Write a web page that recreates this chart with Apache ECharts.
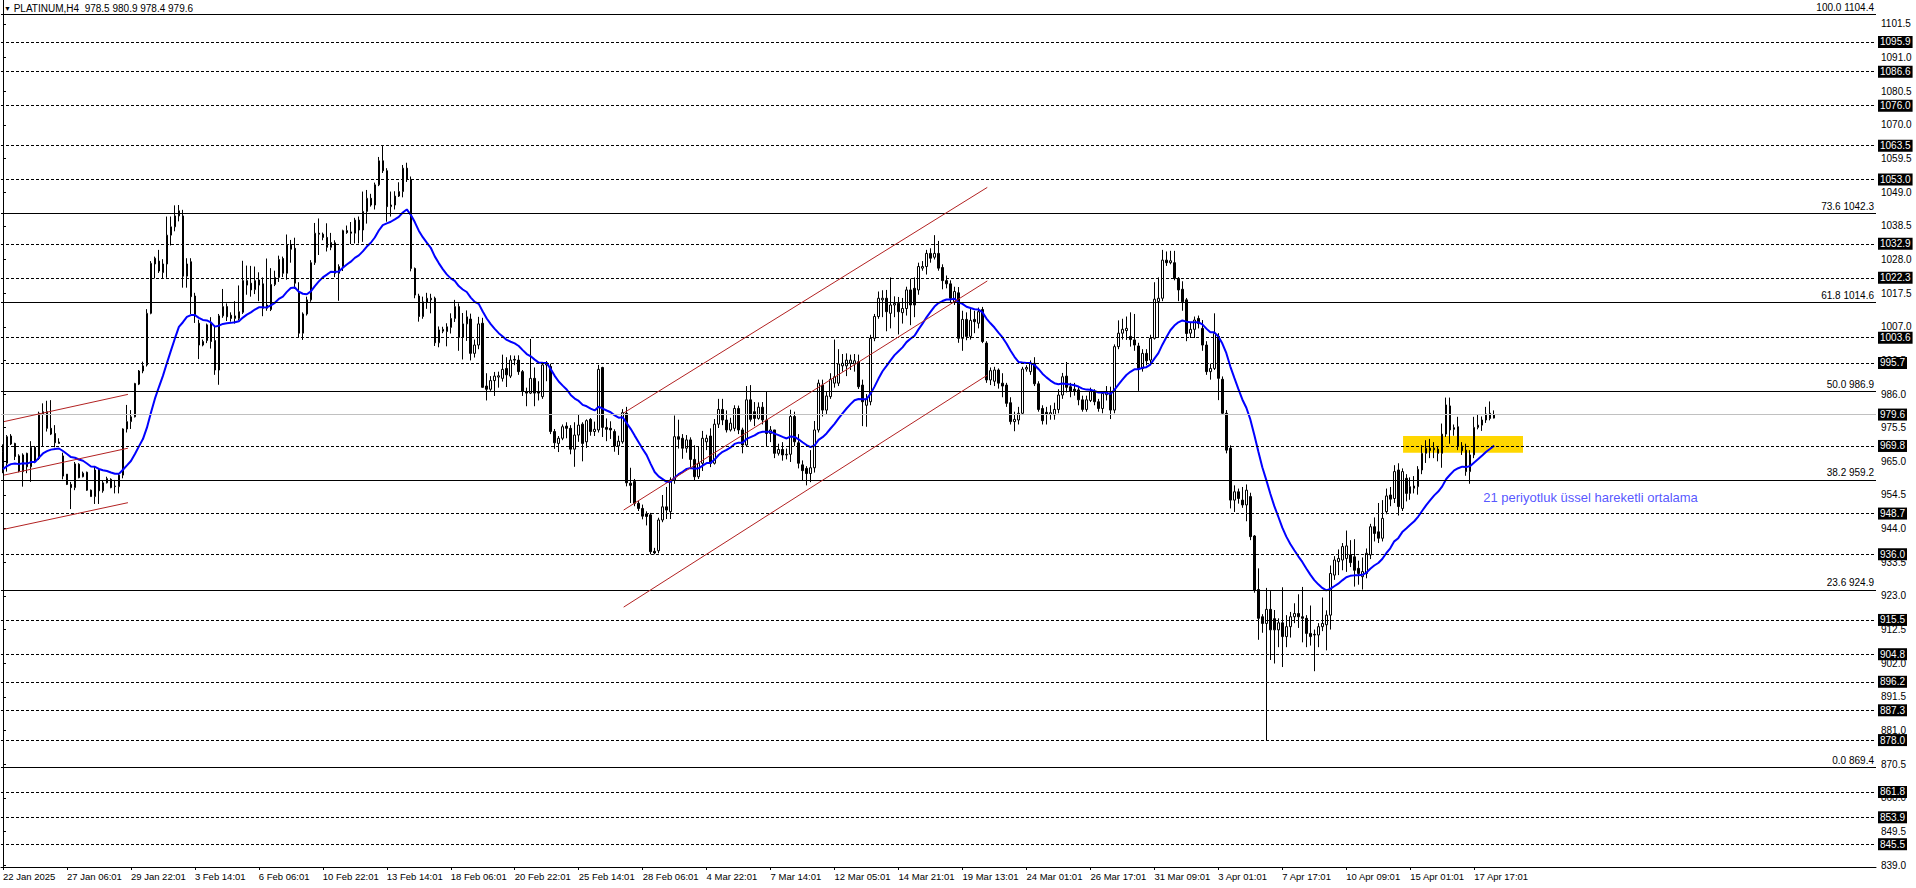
<!DOCTYPE html>
<html><head><meta charset="utf-8">
<script src="https://cdn.jsdelivr.net/npm/echarts@6/dist/echarts.min.js"></script>
<style>html,body{margin:0;padding:0;background:#fff}#c{width:1916px;height:888px}</style>
</head><body><div id="c"></div>
<script>
const symbolName = 'PLATINUM,H4';
const opens = [
968.0,964.4,972.9,970.6,966.7,961.8,967.5,963.3,969.4,965.9,
979.8,980.5,975.3,973.7,971.0,966.7,961.0,957.8,956.8,964.1,
960.2,961.6,956.0,954.0,962.3,955.8,958.3,959.4,957.1,957.1,
960.7,975.1,977.4,978.9,989.1,993.2,995.1,1011.2,1026.6,1027.5,
1023.9,1026.6,1035.6,1038.2,1041.6,1041.6,1022.8,1027.3,1016.6,1008.1,
1001.3,1002.7,1008.1,1002.7,993.5,1010.4,1013.3,1010.6,1009.6,1009.6,
1011.5,1021.4,1020.6,1018.6,1021.6,1020.4,1013.8,1012.4,1020.2,1022.4,
1028.3,1023.7,1032.5,1031.5,1017.9,1005.0,1011.0,1015.4,1027.0,1036.2,
1035.9,1034.9,1031.8,1033.2,1023.7,1025.8,1037.0,1036.6,1036.2,1040.3,
1037.2,1043.0,1047.1,1045.0,1051.3,1058.8,1055.7,1044.5,1045.0,1047.8,
1049.2,1056.5,1053.0,1025.2,1016.6,1010.2,1014.6,1015.4,1015.9,1002.0,
1005.6,1005.5,1006.8,1009.6,1013.3,1003.7,1007.9,1009.4,998.7,1001.3,
1008.1,988.5,987.5,990.2,991.3,990.9,994.0,991.6,996.8,996.6,
993.0,986.8,986.3,990.9,986.8,985.2,995.1,994.6,974.3,970.6,
972.2,976.0,975.3,968.8,973.2,976.6,971.1,978.1,974.3,974.8,
994.3,975.6,975.3,974.3,969.8,971.1,980.0,958.2,958.7,951.9,
950.3,948.6,948.3,936.9,937.1,946.7,950.8,949.3,959.2,972.7,
972.2,969.1,971.7,965.6,960.2,964.4,971.1,972.9,964.4,976.6,
981.2,977.9,974.8,975.3,981.5,974.8,970.1,984.2,980.5,978.4,
981.9,977.9,973.7,974.8,967.5,968.7,967.0,967.2,979.0,970.8,
963.9,962.8,961.2,963.0,974.8,988.8,981.0,985.2,989.4,989.4,
994.8,994.8,995.6,995.4,996.1,988.8,982.5,983.6,1003.4,1010.2,
1015.4,1015.9,1011.2,1013.8,1014.3,1011.4,1012.7,1018.5,1019.0,1018.5,
1025.3,1025.8,1029.9,1028.7,1029.9,1025.5,1021.4,1020.4,1014.8,1017.6,
1003.4,1009.3,1004.0,1009.3,1008.1,1012.4,1001.9,990.4,990.0,993.5,
989.4,988.8,983.3,977.4,977.9,980.0,993.8,993.0,995.6,989.2,
981.5,980.3,979.7,979.5,981.2,985.7,991.6,988.3,987.5,987.3,
984.2,981.2,984.0,986.8,983.6,981.5,985.8,986.4,981.0,1000.8,
1005.0,1005.8,1004.0,1002.9,1001.0,994.0,998.7,996.6,1003.4,1014.9,
1015.9,1027.8,1027.0,1027.0,1022.1,1018.7,1015.4,1005.0,1006.2,1009.6,
1006.5,1001.3,993.0,994.0,1004.0,990.6,980.0,969.1,952.9,955.5,
952.9,951.4,954.0,941.7,925.0,916.5,914.4,918.8,915.9,912.4,
914.6,910.3,913.4,916.5,917.5,916.5,916.0,911.3,911.0,910.8,
913.4,914.0,917.0,929.5,933.7,934.2,934.7,935.8,935.2,931.6,
929.0,930.0,935.8,944.6,943.0,941.0,949.3,954.5,953.4,962.3,
950.3,959.7,955.0,956.6,957.1,962.3,967.5,969.1,968.6,968.8,
967.5,973.5,982.3,975.5,975.8,969.8,968.5,961.8,967.0,975.6,
976.3,977.9,980.0,978.5];
const highs = [
970.3,973.2,973.5,970.8,967.2,967.5,967.7,971.3,969.8,980.5,
983.1,983.9,984.1,976.3,972.2,967.7,961.0,958.6,964.8,964.4,
961.8,961.8,956.2,963.5,962.8,958.9,960.2,959.7,959.2,961.3,
975.3,982.6,981.0,989.5,993.5,996.1,1012.5,1027.5,1028.9,1031.0,
1028.1,1041.4,1041.4,1044.9,1045.0,1043.5,1028.4,1028.4,1017.6,1009.2,
1003.0,1008.0,1010.0,1007.1,1011.0,1018.8,1014.3,1011.5,1015.0,1019.9,
1027.6,1026.1,1026.0,1025.8,1024.0,1022.4,1028.3,1025.3,1024.5,1029.2,
1028.9,1035.8,1034.1,1034.8,1020.9,1011.5,1016.4,1027.8,1039.4,1040.8,
1036.4,1039.3,1036.3,1034.0,1026.5,1037.3,1038.6,1039.7,1041.0,1041.4,
1049.2,1049.7,1048.5,1052.0,1060.0,1063.4,1056.5,1049.2,1049.3,1052.1,
1057.5,1058.2,1053.9,1025.5,1017.3,1016.4,1017.6,1017.3,1016.4,1007.1,
1007.0,1008.1,1011.2,1015.4,1014.3,1011.3,1012.1,1011.1,1003.0,1010.1,
1009.8,992.5,991.6,992.9,993.0,998.3,997.5,998.1,998.0,998.1,
993.5,988.0,1003.2,994.3,990.0,995.5,996.3,995.5,975.1,972.9,
976.5,977.2,976.3,977.2,979.5,977.2,978.1,978.5,977.4,995.1,
994.5,978.4,977.5,975.0,973.0,981.3,982.0,963.0,959.5,952.6,
951.5,949.4,948.9,938.0,947.4,954.5,957.0,960.0,979.3,978.0,
973.5,973.2,972.5,970.0,969.5,974.5,973.3,975.3,978.2,984.5,
984.5,980.9,978.6,982.5,982.4,975.5,988.5,988.8,983.5,983.4,
983.5,986.8,976.0,974.5,970.5,971.0,969.0,981.1,980.5,973.5,
965.3,963.5,968.5,977.6,990.5,990.5,986.8,992.5,1003.0,1000.0,
998.5,998.7,998.3,998.5,998.3,990.5,986.0,1004.5,1011.0,1018.0,
1018.4,1018.5,1022.4,1016.5,1016.3,1016.0,1019.5,1022.0,1022.4,1027.0,
1027.5,1031.0,1031.5,1035.6,1033.8,1026.5,1023.0,1021.5,1019.5,1019.4,
1012.0,1011.5,1013.0,1012.0,1013.0,1013.2,1002.5,994.3,994.5,994.0,
992.5,989.5,985.0,980.5,982.0,994.5,995.0,996.5,997.5,990.0,
982.5,982.0,982.5,983.3,987.5,992.6,996.0,989.5,989.5,988.5,
985.5,985.5,988.0,987.5,984.5,986.8,988.5,988.3,1001.5,1009.0,
1009.5,1010.2,1011.5,1011.0,1002.0,1000.0,1000.0,1004.5,1020.9,1022.4,
1031.0,1030.5,1030.7,1030.7,1022.5,1021.2,1016.0,1008.2,1010.2,1010.5,
1009.1,1002.5,995.5,1011.2,1005.0,991.5,981.0,970.0,957.5,956.5,
957.0,957.8,955.2,942.0,931.6,917.3,925.5,924.5,918.6,916.0,
925.7,917.0,918.0,920.7,923.5,925.8,917.0,920.0,912.5,914.5,
922.5,918.5,932.5,935.4,937.5,939.5,943.4,940.4,940.7,934.0,
935.0,937.8,945.5,947.5,952.0,952.9,956.5,957.0,963.8,964.4,
962.8,961.0,960.0,960.4,963.5,970.0,971.6,972.0,971.0,969.5,
976.8,984.9,984.9,976.5,978.9,971.0,970.5,968.5,978.9,979.5,
979.0,982.0,983.7,980.9];
const lows = [
961.3,961.8,970.1,965.4,961.6,957.1,961.3,958.6,964.4,965.4,
969.6,974.3,973.2,969.4,970.6,959.4,957.6,950.1,956.0,959.7,
960.0,955.8,954.0,951.7,951.7,955.2,958.1,956.6,955.0,955.0,
959.7,974.0,975.1,978.7,988.8,992.5,994.6,1010.9,1022.1,1023.8,
1022.0,1022.3,1032.4,1036.8,1039.9,1019.2,1019.2,1011.0,1008.2,996.9,
1000.9,1001.9,1000.2,992.0,988.9,1009.8,1008.8,1008.6,1008.0,1009.0,
1011.0,1017.0,1016.4,1017.2,1015.0,1010.3,1012.0,1011.9,1019.7,1021.0,
1022.5,1021.7,1027.0,1018.8,1003.5,1002.9,1010.5,1014.8,1026.3,1029.4,
1034.0,1030.5,1030.9,1022.5,1015.1,1024.4,1036.0,1032.8,1033.0,1033.0,
1033.5,1039.2,1044.5,1043.6,1050.9,1055.0,1039.8,1041.4,1043.6,1047.5,
1047.4,1052.2,1024.3,1015.9,1008.6,1009.5,1012.6,1011.2,1001.0,1000.6,
1005.0,1000.9,1004.9,1008.5,999.5,996.8,1002.6,996.5,997.4,1000.0,
988.0,984.0,987.0,985.4,988.0,989.9,988.2,991.0,995.0,992.0,
985.4,982.2,986.0,982.2,984.0,984.5,990.0,973.5,968.9,967.9,
971.6,972.2,967.2,963.3,971.1,965.0,969.2,973.0,972.9,974.0,
972.6,971.3,972.0,968.0,967.0,970.5,957.2,952.0,951.0,949.5,
946.9,945.0,936.0,936.0,936.3,946.0,947.0,947.0,958.0,969.0,
965.8,967.7,963.2,959.0,959.5,962.0,968.5,963.2,964.0,975.4,
976.3,974.0,974.3,974.4,973.5,967.5,969.5,977.4,976.0,978.0,
976.5,969.6,971.0,966.0,966.8,965.2,965.6,964.8,969.8,962.8,
959.0,957.5,958.5,961.5,974.0,979.0,979.8,984.5,988.0,988.5,
993.0,991.6,993.5,993.0,987.6,976.0,975.8,982.5,1002.5,1009.5,
1010.0,1005.6,1006.5,1010.0,1004.6,1008.0,1010.5,1007.5,1010.0,1017.0,
1024.5,1023.3,1027.0,1028.0,1024.5,1018.7,1019.0,1014.5,1013.8,1002.0,
999.5,1002.8,1003.0,1005.0,1006.5,1001.9,989.5,988.8,988.5,987.7,
985.0,982.0,976.5,974.4,976.5,979.5,993.0,992.0,988.5,980.5,
976.5,976.5,978.0,978.0,980.0,984.5,986.5,985.0,985.5,982.5,
980.5,980.5,983.5,982.5,980.5,980.0,984.0,978.2,980.0,1000.0,
1003.0,1002.9,1000.8,999.5,987.0,993.0,995.0,995.5,1003.0,1003.5,
1015.0,1026.0,1026.5,1021.5,1015.0,1012.0,1002.5,1003.5,1003.5,1006.5,
999.5,992.0,990.5,993.5,984.1,979.5,967.5,950.3,949.2,951.8,
950.5,946.3,940.4,924.0,909.3,911.5,878.0,903.0,901.9,907.0,
900.8,907.0,910.0,914.5,913.0,908.5,907.0,907.5,899.5,907.0,
912.0,906.0,912.5,928.0,929.5,931.0,930.5,932.0,925.9,926.5,
925.0,928.5,934.5,940.0,939.5,940.0,948.5,951.0,952.0,948.1,
949.5,952.5,953.0,955.0,954.6,961.0,964.5,966.0,966.0,965.0,
963.0,972.6,970.5,973.0,968.5,967.0,960.5,958.0,966.0,975.0,
974.5,977.0,977.8,978.4];
const closes = [
964.4,972.7,970.4,966.5,962.0,967.0,963.3,969.4,964.9,980.0,
980.5,975.3,973.5,970.8,970.6,960.4,957.8,956.8,964.2,959.9,
961.3,956.0,954.0,962.3,955.8,958.3,959.6,956.8,957.3,960.7,
975.1,977.4,978.9,989.3,993.2,994.8,1011.2,1026.8,1028.4,1024.4,
1026.6,1035.6,1038.2,1041.6,1043.2,1022.8,1026.6,1016.4,1010.7,1001.3,
1002.4,1007.6,1002.4,993.5,1010.4,1013.3,1010.1,1009.6,1010.4,1011.7,
1021.4,1020.0,1018.5,1021.4,1020.0,1012.8,1012.8,1020.2,1022.4,1028.0,
1023.7,1032.5,1031.2,1020.6,1005.0,1011.0,1015.4,1027.0,1036.2,1035.9,
1034.9,1031.8,1033.3,1023.7,1025.8,1037.0,1036.4,1036.2,1040.3,1037.2,
1043.0,1047.1,1045.0,1051.3,1058.8,1055.7,1044.5,1045.0,1047.8,1049.2,
1056.5,1053.0,1025.2,1016.9,1010.2,1014.8,1015.9,1015.9,1002.0,1006.0,
1006.2,1007.0,1009.6,1013.3,1003.7,1007.9,1010.1,998.7,1001.3,1007.9,
988.1,987.5,990.2,991.6,991.7,993.7,992.0,996.6,996.6,993.0,
986.8,986.3,990.9,986.3,986.3,995.1,995.6,974.3,970.8,972.2,
975.8,975.3,968.8,973.2,976.3,970.6,977.7,974.3,975.0,993.7,
975.6,975.0,974.8,969.8,971.3,980.2,958.3,957.5,951.9,950.3,
947.9,947.8,936.8,936.4,946.7,950.8,949.8,959.2,972.7,971.9,
969.1,971.7,965.6,960.2,964.4,972.2,972.2,964.4,976.6,981.2,
977.9,974.8,976.9,981.5,974.8,970.1,984.2,978.1,978.4,981.9,
977.9,973.7,974.8,967.5,968.7,967.0,967.2,979.0,971.1,964.4,
962.1,961.2,963.0,974.8,989.4,981.0,985.4,990.6,991.4,995.4,
995.6,996.6,996.6,996.4,988.3,983.6,984.5,1003.4,1010.2,1015.9,
1015.9,1011.7,1013.8,1014.3,1011.7,1012.7,1018.5,1013.8,1013.8,1025.8,
1025.8,1029.9,1028.4,1029.9,1025.3,1021.4,1020.4,1015.9,1018.0,1003.4,
1009.3,1004.0,1009.0,1008.6,1011.7,1002.4,990.4,993.3,993.5,989.4,
988.5,983.1,977.4,978.1,980.0,993.8,994.3,995.6,989.2,981.2,
977.7,979.7,980.2,981.2,985.7,991.4,988.1,986.8,987.0,984.2,
981.2,984.2,986.8,983.6,981.5,986.2,986.4,981.0,1000.8,1005.0,
1006.2,1006.5,1003.0,1001.3,994.0,998.7,996.4,1003.4,1015.6,1015.9,
1027.8,1027.0,1027.6,1022.1,1018.5,1014.8,1004.9,1006.2,1009.1,1008.0,
1001.3,993.0,994.0,1004.9,990.9,980.0,968.5,952.9,955.5,953.4,
951.4,956.0,941.5,924.8,916.0,914.4,918.8,912.4,912.4,914.6,
910.3,913.4,916.5,917.5,916.5,916.0,911.3,910.3,910.8,913.4,
914.4,917.0,930.0,934.2,934.7,938.4,938.6,933.4,931.0,930.0,
930.6,936.3,944.6,942.5,941.0,947.2,954.2,953.2,961.8,950.9,
961.8,955.0,957.1,957.3,962.5,967.5,969.1,968.4,969.1,967.5,
973.5,982.6,974.8,975.0,969.6,968.3,961.8,967.0,975.6,976.3,
977.9,979.8,978.4,979.6];

const xLabelIdx = [0,16,32,48,64,80,96,112,128,144,160,176,192,208,224,240,256,272,288,304,320,336,352,368];
const xLabelText = ['22 Jan 2025','27 Jan 06:01','29 Jan 22:01','3 Feb 14:01','6 Feb 06:01','10 Feb 22:01','13 Feb 14:01','18 Feb 06:01','20 Feb 22:01','25 Feb 14:01','28 Feb 06:01','4 Mar 22:01','7 Mar 14:01','12 Mar 05:01','14 Mar 21:01','19 Mar 13:01','24 Mar 01:01','26 Mar 17:01','31 Mar 09:01','3 Apr 01:01','7 Apr 17:01','10 Apr 09:01','15 Apr 01:01','17 Apr 17:01'];
const yTickValues = [839.0,849.5,860.0,870.5,881.0,891.5,902.0,912.5,923.0,933.5,944.0,954.5,965.0,975.5,986.0,996.5,1007.0,1017.5,1028.0,1038.5,1049.0,1059.5,1070.0,1080.5,1091.0,1101.5];
const levelPrices = [1095.9,1086.6,1076.0,1063.5,1053.0,1032.9,1022.3,1003.6,995.7,969.8,948.7,936.0,915.5,904.8,896.2,887.3,878.0,861.8,853.9,845.5];
const fibPercents = [100.0,73.6,61.8,50.0,38.2,23.6,0.0];
const fibPrices = [1104.4,1042.3,1014.6,986.9,959.2,924.9,869.4];
const bidPrice = 979.6;
const emaPeriod = 21;
const emaSeed = 962.4;
// trend lines: [barIndex1, price1, barIndex2, price2]
const trendLines = [
  [0.25,977.4,31.25,985.9],
  [0.25,960.7,31.25,969.1],
  [0.25,943.8,31.25,952.1],
  [155.25,980.1,246.2,1050.5],
  [155.25,949.8,246.2,1021.3],
  [155.25,919.5,246.2,991.9]
];
const zoneBox = [350.2,972.9,380.2,967.7];
const noteText = '21 periyotluk üssel hareketli ortalama';
const notePos = [370.25,953.6];

const FONT = 'Liberation Sans, Arial, sans-serif';
const N = 469;
const Y_MIN = 838.39, Y_MAX = 1108.99;

const cats = Array.from({length: N}, (_, i) => String(i));
const labelMap = {};
xLabelIdx.forEach((k, j) => { labelMap[k] = xLabelText[j]; });
const candleData = opens.map((o, i) => [o, closes[i], lows[i], highs[i]]);
const ema = [];
{ let e = emaSeed; const k = 2 / (emaPeriod + 1);
  for (const c of closes) { e = e + k * (c - e); ema.push(+e.toFixed(2)); } }

const boxLabel = (txt) => ({
  show: true, position: 'end', distance: 2, formatter: txt,
  backgroundColor: '#000', color: '#fff', fontSize: 10, fontFamily: FONT,
  padding: [1, 2, 0, 2], lineHeight: 11
});
const markData = [];
levelPrices.forEach(p => markData.push({
  yAxis: p, lineStyle: {color: '#000', type: [3, 2], width: 1}, label: boxLabel(p.toFixed(1))
}));
fibPrices.forEach((p, j) => markData.push({
  yAxis: p, lineStyle: {color: '#000', type: 'solid', width: 1},
  label: {show: true, position: 'insideEndTop', distance: 2, formatter: fibPercents[j].toFixed(1) + ' ' + p.toFixed(1),
    color: '#000', fontSize: 10, fontFamily: FONT}
}));
markData.push({yAxis: bidPrice, lineStyle: {color: '#c0c0c0', type: 'solid', width: 1}, label: boxLabel(bidPrice.toFixed(1))});

const last = opens.length - 1;
const series = [
  {
    type: 'line', xAxisIndex: 1, yAxisIndex: 0, data: [], z: 1, silent: true,
    markArea: {silent: true, itemStyle: {color: '#ffd700', opacity: 1},
      data: [[{coord: [zoneBox[0], zoneBox[1]]}, {coord: [zoneBox[2], zoneBox[3]]}]]}
  },
  {
    type: 'candlestick', xAxisIndex: 0, yAxisIndex: 0, data: candleData, barWidth: 2, z: 3,
    itemStyle: {color: '#fff', color0: '#000', borderColor: '#000', borderColor0: '#000', borderWidth: 1},
    markLine: {silent: true, symbol: ['none', 'none'], animation: false, data: markData}
  },
  {
    type: 'line', xAxisIndex: 0, yAxisIndex: 0, data: ema, showSymbol: false, symbol: 'none', z: 4,
    lineStyle: {color: '#0000ff', width: 2}
  }
];
trendLines.forEach(t => series.push({
  type: 'line', xAxisIndex: 1, yAxisIndex: 0, data: [[t[0], t[1]], [t[2], t[3]]], symbol: 'none', z: 5,
  lineStyle: {color: '#b22222', width: 1}
}));
series.push({
  type: 'scatter', xAxisIndex: 1, yAxisIndex: 0, data: [notePos], symbolSize: 0, z: 6,
  label: {show: true, position: 'right', distance: 0, formatter: noteText, color: '#2a2aff', fontSize: 13, fontFamily: FONT}
});

const option = {
  animation: false,
  backgroundColor: '#fff',
  title: {
    text: '{a|▼} ' + symbolName + '  ' + [opens[last], highs[last], lows[last], closes[last]].map(v => v.toFixed(1)).join(' '),
    left: 4, top: 3, padding: 0,
    textStyle: {fontSize: 10, fontWeight: 'normal', color: '#000', fontFamily: FONT, rich: {a: {fontSize: 7, color: '#000'}}}
  },
  grid: {left: 0, right: 40, top: 0, bottom: 21, containLabel: false},
  xAxis: [
    {
      type: 'category', data: cats, boundaryGap: true, gridIndex: 0,
      axisLine: {show: true, lineStyle: {color: '#000', width: 1}},
      axisTick: {show: true, length: 3, alignWithLabel: true, interval: (i) => labelMap[i] !== undefined, lineStyle: {color: '#000'}},
      axisLabel: {show: true, interval: (i) => labelMap[i] !== undefined, formatter: (v, i) => labelMap[i] || '',
        align: 'left', margin: 4, fontSize: 9.5, color: '#000', fontFamily: FONT, hideOverlap: false},
      splitLine: {show: false}
    },
    {type: 'value', min: -0.5, max: N - 0.5, show: false, gridIndex: 0}
  ],
  yAxis: [
    {
      type: 'value', position: 'right', min: Y_MIN, max: Y_MAX, scale: true,
      axisLine: {show: true, lineStyle: {color: '#000', width: 1}},
      axisTick: {show: true, length: 3, customValues: yTickValues, lineStyle: {color: '#000'}},
      axisLabel: {show: true, customValues: yTickValues, formatter: v => Number(v).toFixed(1), margin: 5,
        fontSize: 10, color: '#000', fontFamily: FONT},
      splitLine: {show: false}
    },
    {
      type: 'value', position: 'left', min: Y_MIN, max: Y_MAX, offset: -2,
      axisLine: {show: true, lineStyle: {color: '#000', width: 1}},
      axisTick: {show: false}, axisLabel: {show: false}, splitLine: {show: false}
    }
  ],
  series
};
const chart = echarts.init(document.getElementById('c'), null, {renderer: 'svg', width: 1916, height: 888});
chart.setOption(option);
</script>
</body></html>
